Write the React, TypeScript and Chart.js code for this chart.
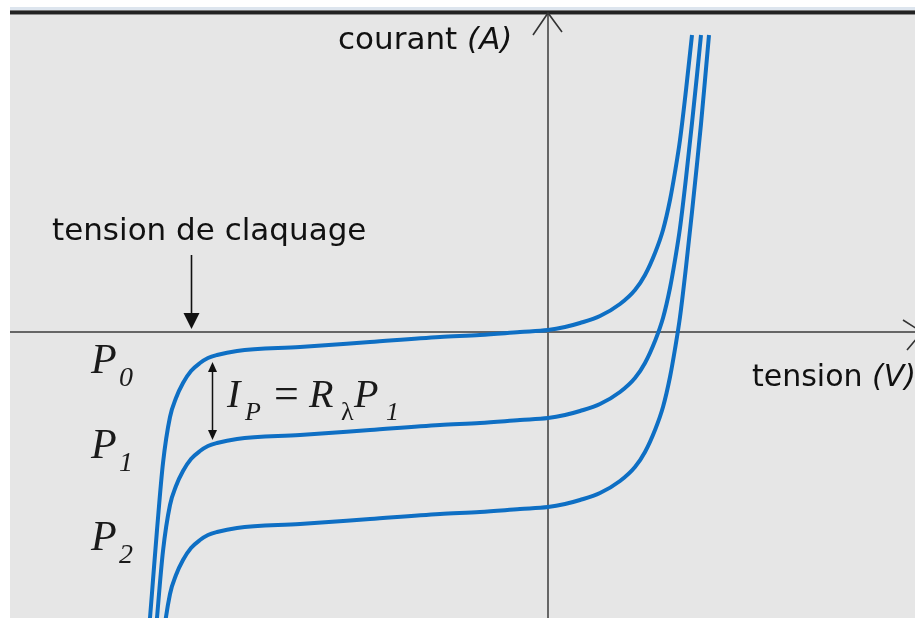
import { useEffect, useRef } from "react";
import { Chart, registerables } from "chart.js";

Chart.register(...registerables);

// Tension (V) and courant (A) for three illumination levels P0 > P1 > P2
const P0_V = [-4.01, -3.98, -3.95, -3.91, -3.85, -3.78, -3.72, -3.65, -3.57, -3.48, -3.4, -3.31, -3.11, -2.48, -1.78, -1.08, -0.68, -0.28, 0, 0.17, 0.32, 0.52, 0.72, 0.87, 0.97, 1.07, 1.15, 1.22, 1.27, 1.32, 1.38, 1.44];
const P0_I = [-3.18, -2.86, -2.48, -1.98, -1.31, -0.85, -0.66, -0.51, -0.39, -0.31, -0.26, -0.23, -0.19, -0.15, -0.1, -0.05, -0.03, 0, 0.02, 0.05, 0.09, 0.16, 0.28, 0.42, 0.57, 0.79, 1.02, 1.32, 1.6, 1.92, 2.42, 2.97];

const P1_V = [-3.95, -3.91, -3.85, -3.78, -3.72, -3.65, -3.57, -3.48, -3.4, -3.31, -3.11, -2.48, -1.78, -1.08, -0.68, -0.28, 0, 0.17, 0.32, 0.52, 0.72, 0.87, 0.97, 1.07, 1.15, 1.22, 1.27, 1.32, 1.38, 1.44, 1.49, 1.53];
const P1_I = [-3.36, -2.86, -2.19, -1.73, -1.54, -1.39, -1.27, -1.19, -1.14, -1.11, -1.07, -1.03, -0.98, -0.93, -0.91, -0.88, -0.86, -0.83, -0.79, -0.72, -0.6, -0.46, -0.31, -0.09, 0.14, 0.44, 0.72, 1.04, 1.54, 2.09, 2.57, 2.97];

const P2_V = [-3.91, -3.85, -3.78, -3.72, -3.65, -3.57, -3.48, -3.4, -3.31, -3.11, -2.48, -1.78, -1.08, -0.68, -0.28, 0, 0.17, 0.32, 0.52, 0.72, 0.87, 0.97, 1.07, 1.15, 1.22, 1.27, 1.32, 1.38, 1.44, 1.49, 1.53, 1.57, 1.61];
const P2_I = [-3.75, -3.08, -2.62, -2.43, -2.28, -2.16, -2.08, -2.03, -2.0, -1.96, -1.92, -1.87, -1.82, -1.8, -1.77, -1.75, -1.72, -1.68, -1.61, -1.49, -1.35, -1.2, -0.98, -0.75, -0.45, -0.17, 0.15, 0.65, 1.2, 1.68, 2.08, 2.52, 2.97];

const SERIES = [
  { name: "P0", v: P0_V, i: P0_I },
  { name: "P1", v: P1_V, i: P1_I },
  { name: "P2", v: P2_V, i: P2_I },
];

// Breakdown voltage marker and photocurrent gap (between P0 and P1 plateaus)
const BREAKDOWN_V = -3.57;
const GAP_V = -3.36;
const GAP_TOP_I = -0.3;
const GAP_BOTTOM_I = -1.08;

const X_LABEL = "tension ";
const X_UNIT = "(V)";
const Y_LABEL = "courant ";
const Y_UNIT = "(A)";
const BREAKDOWN_LABEL = "tension de claquage";

const BLUE = "#0e6fc4";
const SANS = '"DejaVu Sans", sans-serif';
const SERIF = '"Liberation Serif", "DejaVu Serif", serif';

function toPoints(v: number[], i: number[]) {
  return v.map((x, k) => ({ x, y: i[k] }));
}

function filledHead(ctx: CanvasRenderingContext2D, x: number, tipY: number, dir: number, len: number, half: number) {
  ctx.beginPath();
  ctx.moveTo(x, tipY);
  ctx.lineTo(x - half, tipY - dir * len);
  ctx.lineTo(x + half, tipY - dir * len);
  ctx.closePath();
  ctx.fill();
}

const diagramPlugin = {
  id: "diagram",
  beforeDraw(chart: any) {
    const { ctx, width, height } = chart;
    ctx.save();
    ctx.fillStyle = "#e6e6e6";
    ctx.fillRect(0, 0, width, height);
    // window frame band along the top
    ctx.fillStyle = "#dde5ee";
    ctx.fillRect(0, 0, width, 3);
    ctx.fillStyle = "#777";
    ctx.fillRect(0, 3, width, 1);
    ctx.fillStyle = "#222";
    ctx.fillRect(0, 4, width, 3);
    ctx.fillStyle = "#8a8a8a";
    ctx.fillRect(0, 7, width, 1);
    ctx.restore();
  },
  beforeDatasetsDraw(chart: any) {
    const { ctx, width, height } = chart;
    const x0 = chart.scales.x.getPixelForValue(0);
    const y0 = chart.scales.y.getPixelForValue(0);
    ctx.save();
    ctx.strokeStyle = "#666";
    ctx.lineWidth = 2;
    ctx.beginPath();
    ctx.moveTo(0, y0);
    ctx.lineTo(width, y0);
    ctx.moveTo(x0, 6);
    ctx.lineTo(x0, height);
    ctx.stroke();
    // open arrow tips
    ctx.strokeStyle = "#333";
    ctx.lineWidth = 1.6;
    ctx.beginPath();
    ctx.moveTo(x0 - 15, 28);
    ctx.lineTo(x0, 6);
    ctx.lineTo(x0 + 14, 25);
    ctx.moveTo(width - 12, y0 - 12);
    ctx.lineTo(width + 7, y0);
    ctx.lineTo(width - 8, y0 + 18);
    ctx.stroke();
    ctx.restore();
  },
  afterDatasetsDraw(chart: any) {
    const { ctx } = chart;
    const sx = chart.scales.x;
    const sy = chart.scales.y;
    const y0 = sy.getPixelForValue(0);
    ctx.save();
    ctx.fillStyle = "#111";
    ctx.strokeStyle = "#111";

    // breakdown arrow
    const bx = Math.round(sx.getPixelForValue(BREAKDOWN_V)) + 0.5;
    ctx.lineWidth = 1.6;
    ctx.beginPath();
    ctx.moveTo(bx, y0 - 77);
    ctx.lineTo(bx, y0 - 18);
    ctx.stroke();
    filledHead(ctx, bx, y0 - 3, 1, 16, 8);

    // double arrow between P0 and P1 plateaus
    const gx = Math.round(sx.getPixelForValue(GAP_V)) + 0.5;
    const gt = sy.getPixelForValue(GAP_TOP_I);
    const gb = sy.getPixelForValue(GAP_BOTTOM_I);
    ctx.lineWidth = 1.5;
    ctx.beginPath();
    ctx.moveTo(gx, gt + 8);
    ctx.lineTo(gx, gb - 8);
    ctx.stroke();
    filledHead(ctx, gx, gt, -1, 10, 4.5);
    filledHead(ctx, gx, gb, 1, 10, 4.5);

    ctx.textBaseline = "alphabetic";
    ctx.textAlign = "left";

    // sans labels
    ctx.font = `31px ${SANS}`;
    ctx.fillText(Y_LABEL, 328, 42);
    const wy = ctx.measureText(Y_LABEL).width;
    ctx.fillText(BREAKDOWN_LABEL, 42, 233);
    ctx.font = `30px ${SANS}`;
    ctx.fillText(X_LABEL, 742, 379);
    const wx = ctx.measureText(X_LABEL).width;
    ctx.font = `oblique 31px ${SANS}`;
    ctx.fillText(Y_UNIT, 328 + wy, 42);
    ctx.font = `oblique 30px ${SANS}`;
    ctx.fillText(X_UNIT, 742 + wx, 379);

    // curve labels
    ctx.fillStyle = "#1a1a1a";
    const labelY = [366, 451, 543];
    SERIES.forEach((s, k) => {
      ctx.font = `italic 42px ${SERIF}`;
      ctx.fillText(s.name[0], 81, labelY[k]);
      ctx.font = `italic 28px ${SERIF}`;
      ctx.fillText(s.name.slice(1), 109, labelY[k] + 13);
    });

    // I_P = R_λ P_1
    ctx.font = `italic 40px ${SERIF}`;
    ctx.fillText("I", 217, 400);
    ctx.font = `italic 26px ${SERIF}`;
    ctx.fillText("P", 235, 413);
    ctx.font = `44px ${SERIF}`;
    ctx.fillText("=", 264, 401);
    ctx.font = `italic 40px ${SERIF}`;
    ctx.fillText("R", 299, 400);
    ctx.font = `26px ${SERIF}`;
    ctx.fillText("λ", 331, 413);
    ctx.font = `italic 40px ${SERIF}`;
    ctx.fillText("P", 344, 400);
    ctx.font = `italic 26px ${SERIF}`;
    ctx.fillText("1", 376, 413);

    ctx.restore();
  },
};

export default function App() {
  const ref = useRef<HTMLCanvasElement>(null);

  useEffect(() => {
    const canvas = ref.current;
    if (!canvas) return;
    const chart = new Chart(canvas, {
      type: "line",
      data: {
        datasets: SERIES.map((s) => ({
          label: s.name,
          data: toPoints(s.v, s.i),
          borderColor: BLUE,
          borderWidth: 4,
          pointRadius: 0,
          fill: false,
          cubicInterpolationMode: "monotone" as const,
        })),
      },
      options: {
        responsive: false,
        animation: false,
        devicePixelRatio: 1,
        layout: { padding: 0 },
        parsing: false,
        plugins: { legend: { display: false }, tooltip: { enabled: false } },
        scales: {
          x: { type: "linear", min: -5.38, max: 3.67, display: false },
          y: { type: "linear", min: -2.86, max: 3.25, display: false },
        },
      },
      plugins: [diagramPlugin],
    });
    return () => chart.destroy();
  }, []);

  return (
    <div style={{ position: "fixed", left: 10, top: 7, width: 905, height: 611 }}>
      <canvas ref={ref} width={905} height={611} style={{ display: "block", width: 905, height: 611 }} />
    </div>
  );
}
